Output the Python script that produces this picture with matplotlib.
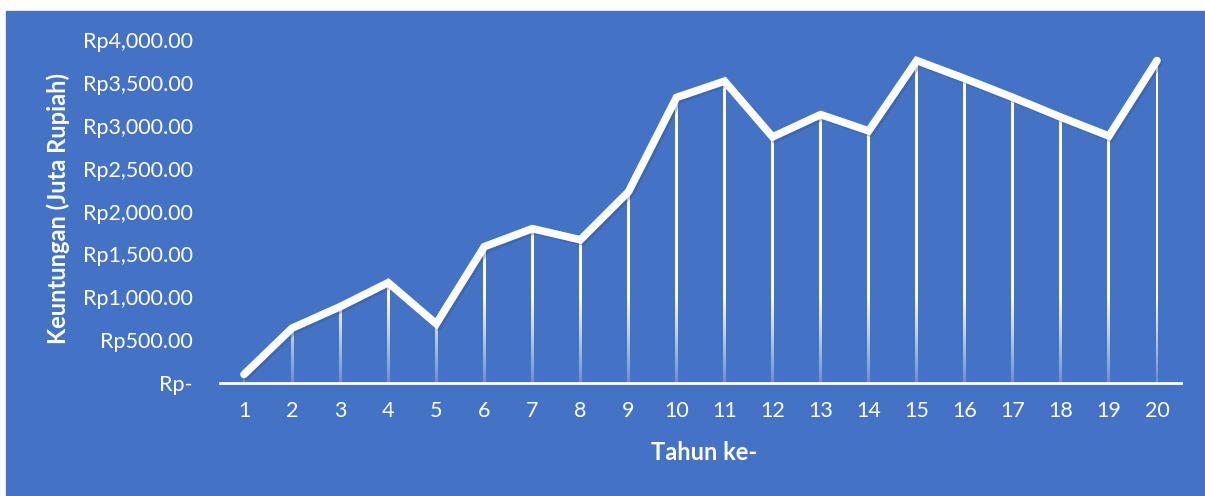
import numpy as np
import matplotlib
matplotlib.use("Agg")
import matplotlib.pyplot as plt
from matplotlib.path import Path
from matplotlib.patches import PathPatch
from matplotlib.ticker import FuncFormatter
import matplotlib.patheffects as pe

# Annual profit (million Rupiah) per year
years = list(range(1, 21))
profit = [100, 640, 890, 1170, 690, 1590, 1800, 1670, 2230, 3330,
          3520, 2870, 3130, 2940, 3760, 3550, 3330, 3100, 2880, 3760]
y_ticks = [0, 500, 1000, 1500, 2000, 2500, 3000, 3500, 4000]

BLUE = "#4472C4"
W, H = 1205, 496
plt.rcParams["font.family"] = ["Lato", "DejaVu Sans"]

fig = plt.figure(figsize=(W / 100, H / 100), dpi=100)
fig.patch.set_facecolor("white")
# blue panel behind the chart
fig.add_artist(plt.Rectangle((6 / W, 0), 1 - 6 / W, 1 - 11 / H,
                             transform=fig.transFigure, color=BLUE, zorder=0))

ax = fig.add_axes([220 / W, 1 - 383 / H, (1181 - 220) / W, (383 - 40) / H])
ax.set_facecolor("none")
ax.set_xlim(0.5, 20.5)
ax.set_ylim(0, 4000)

# drop lines: thin rectangles filled with a white gradient fading downward
half_w = 0.03
verts, codes = [], []
for x, v in zip(years, profit):
    verts += [(x - half_w, 0), (x + half_w, 0), (x + half_w, v), (x - half_w, v), (x - half_w, 0)]
    codes += [Path.MOVETO, Path.LINETO, Path.LINETO, Path.LINETO, Path.CLOSEPOLY]
clip = PathPatch(Path(verts, codes), transform=ax.transData, facecolor="none",
                 edgecolor="none")
ax.add_patch(clip)
yy = np.linspace(0, 4000, 400)
alpha = 0.2 + 0.8 * np.clip(yy / 1000.0, 0, 1)
grad = np.ones((400, 1, 4))
grad[:, 0, 3] = alpha
im = ax.imshow(grad, extent=(0.5, 20.5, 0, 4000), origin="lower", aspect="auto",
               interpolation="bilinear", zorder=2)
im.set_clip_path(clip)

ax.plot(years, profit, color="white", lw=5.5, solid_capstyle="round",
        solid_joinstyle="miter", zorder=3,
        path_effects=[pe.SimpleLineShadow(offset=(1.5, -1.5), shadow_color="#2f5597",
                                          alpha=0.35), pe.Normal()])

for s in ["top", "right", "left"]:
    ax.spines[s].set_visible(False)
ax.spines["bottom"].set_color("white")
ax.spines["bottom"].set_linewidth(2)
ax.spines["bottom"].set_zorder(4)

ax.set_xticks(years)
ax.set_xticklabels([str(y) for y in years])
ax.set_yticks(y_ticks)
ax.yaxis.set_major_formatter(FuncFormatter(
    lambda v, p: "Rp-" if v == 0 else f"Rp{v:,.2f}"))
ax.tick_params(axis="both", length=0, colors="white", labelsize=15.5)
ax.tick_params(axis="x", pad=13)
ax.tick_params(axis="y", pad=19.5)

fig.text(704 / W, 1 - 452 / H, "Tahun ke-", color="white", fontsize=17,
         fontweight="bold", ha="center", va="center")
fig.text(58 / W, 1 - 208 / H, "Keuntungan (Juta Rupiah)", color="white",
         fontsize=17, fontweight="bold", ha="center", va="center", rotation=90)

fig.savefig("out.png", dpi=100)
